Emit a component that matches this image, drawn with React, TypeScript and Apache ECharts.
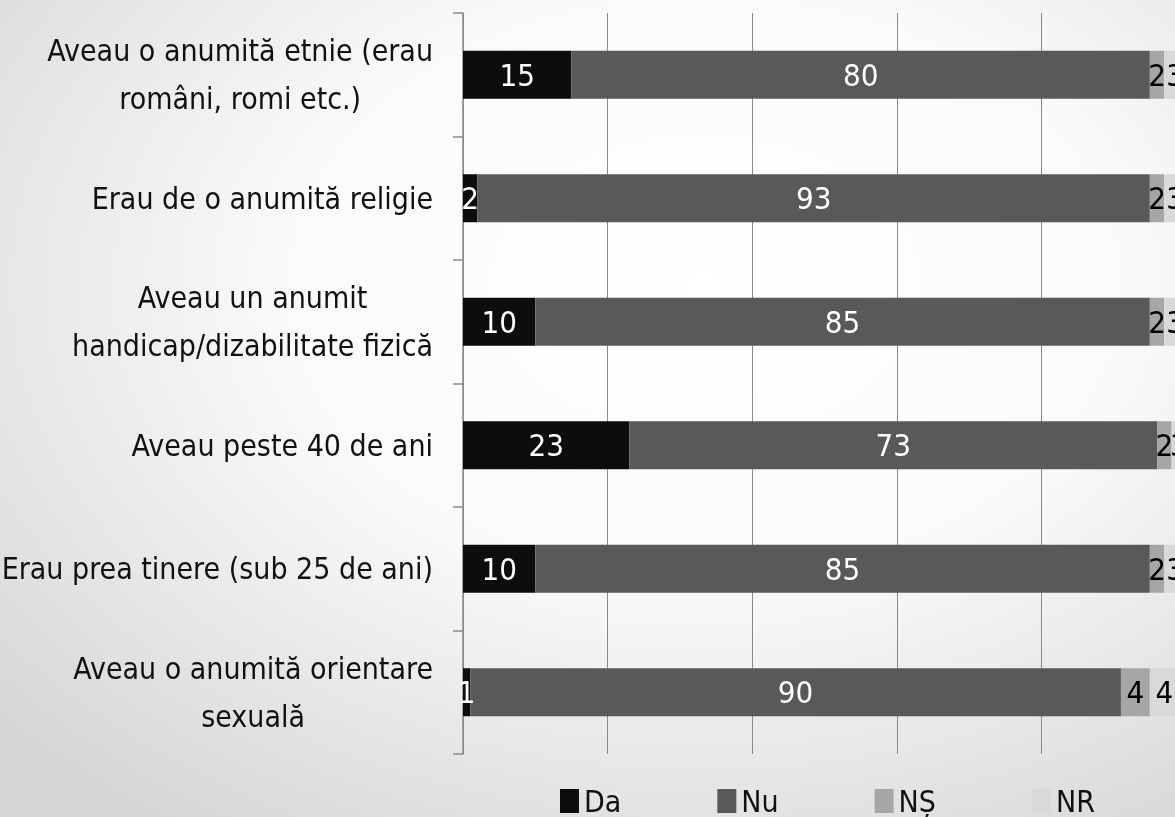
import React, { useEffect, useRef } from "react";
import * as echarts from "echarts";

const categories = [
  "Aveau o anumită etnie (erau\nromâni, romi etc.)",
  "Erau de o anumită religie",
  "Aveau un anumit\nhandicap/dizabilitate fizică",
  "Aveau peste 40 de ani",
  "Erau prea tinere (sub 25 de ani)",
  "Aveau o anumită orientare\nsexuală",
];
const seriesNames = ["Da", "Nu", "NȘ", "NR"];
const da = [15, 2, 10, 23, 10, 1];
const nu = [80, 93, 85, 73, 85, 90];
const ns = [2, 2, 2, 2, 2, 4];
const nr = [3, 3, 3, 3, 3, 4];
const colors = ["#0d0d0d", "#595959", "#a6a6a6", "#d9d9d9"];
const labelColors = ["#ffffff", "#ffffff", "#000000", "#000000"];

const FONT = "'Liberation Sans Narrow', 'DejaVu Sans Condensed', sans-serif";

export default function App() {
  const ref = useRef<HTMLDivElement>(null);
  useEffect(() => {
    if (!ref.current) return;
    const chart = echarts.init(ref.current, undefined, { renderer: "svg" });
    const data = [da, nu, ns, nr];
    chart.setOption({
      animation: false,
      backgroundColor: {
        type: "radial",
        x: 0.6,
        y: 0.35,
        r: 0.8,
        colorStops: [
          { offset: 0, color: "#ffffff" },
          { offset: 0.45, color: "#fafafa" },
          { offset: 1, color: "#d6d6d6" },
        ],
      },
      grid: {
        left: 463,
        right: -11,
        top: 13,
        bottom: 63,
        containLabel: false,
        outerBoundsMode: "none",
      },
      legend: {
        data: seriesNames,
        left: 555,
        top: 781,
        itemWidth: 19,
        itemHeight: 24,
        itemGap: 96,
        icon: "rect",
        textStyle: { fontFamily: FONT, fontSize: 30, color: "#111" },
      },
      xAxis: {
        type: "value",
        min: 0,
        max: 100,
        interval: 20,
        axisLine: { show: false },
        axisTick: { show: false },
        axisLabel: { show: false },
        splitLine: { show: true, lineStyle: { color: "#8a8a8a", width: 1 } },
      },
      yAxis: {
        type: "category",
        data: categories,
        inverse: true,
        axisLine: { show: true, lineStyle: { color: "#8a8a8a", width: 1.5 } },
        axisTick: { show: true, length: 10, lineStyle: { color: "#8a8a8a", width: 1.5 } },
        axisLabel: {
          margin: 30,
          color: "#111",
          fontFamily: FONT,
          fontSize: 30,
          lineHeight: 48,
          formatter: (v: string) =>
            v
              .split("\n")
              .map((l) => `{c|${l}}`)
              .join("\n"),
          rich: {
            c: { align: "center", fontFamily: FONT, fontSize: 30, lineHeight: 48, color: "#111" },
          },
        },
      },
      series: seriesNames.map((name, i) => ({
        name,
        type: "bar",
        stack: "total",
        barWidth: 48,
        data: data[i],
        itemStyle: { color: colors[i] },
        label: {
          show: true,
          position: "inside",
          color: labelColors[i],
          fontFamily: FONT,
          fontSize: 31,
        },
      })),
    });
    return () => chart.dispose();
  }, []);
  return (
    <div
      ref={ref}
      style={{ position: "fixed", left: 0, top: 0, width: 1175, height: 817 }}
    />
  );
}
